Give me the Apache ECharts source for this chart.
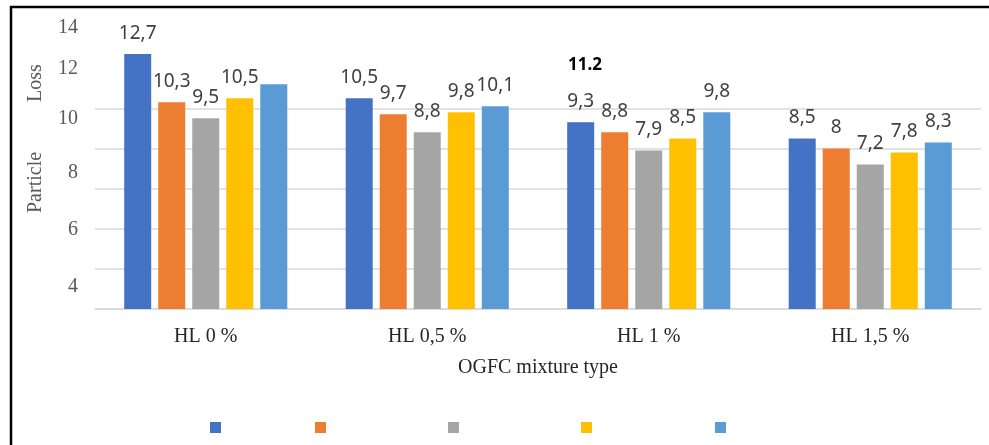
<!DOCTYPE html>
<html>
<head>
<meta charset="UTF-8">
<title>Particle Loss</title>
<style>
    html, body { margin: 0; padding: 0; background: #fff; }
    #chartArea { width: 989px; height: 445px; }
</style>
</head>
<body>
<div id="chartArea"></div>
<script src="https://cdn.jsdelivr.net/npm/echarts@6/dist/echarts.min.js"></script>
<script>
// categories on the x axis
var mixtures = ['HL 0 %', 'HL 0,5 %', 'HL 1 %', 'HL 1,5 %'];

// five series, one value per mixture
var s1 = [12.7, 10.5, 9.3, 8.5];
var s2 = [10.3, 9.7, 8.8, 8];
var s3 = [9.5, 8.8, 7.9, 7.2];
var s4 = [10.5, 9.8, 8.5, 7.8];
var s5 = [11.2, 10.1, 9.8, 8.3];

// y tick labels as printed in the source (they sit off the grid lines)
var tickLabels = ['14', '12', '10', '8', '6', '4'];
var tickAt = [14, 11.95, 9.5, 6.8, 3.95, 1.1];

// the one value printed in bold away from its bar
var strayLabel = '11.2';

var colors = ['#4472C4', '#ED7D31', '#A5A5A5', '#FFC000', '#5B9BD5'];
var names = ['s1', 's2', 's3', 's4', 's5'];
var values = [s1, s2, s3, s4, s5];

function comma(p) {
    return String(p.value).replace('.', ',');
}

var series = values.map(function (arr, i) {
    return {
        name: names[i],
        type: 'bar',
        barWidth: 27,
        barGap: '26%',
        itemStyle: { color: colors[i] },
        label: {
            show: true,
            position: 'top',
            distance: 11,
            formatter: comma,
            fontFamily: 'Noto Sans',
            fontSize: 19,
            color: '#404040'
        },
        data: arr.map(function (v, j) {
            // first light-blue bar has no label of its own
            if (i === 4 && j === 0) return { value: v, label: { show: false } };
            return v;
        })
    };
});

var legendX = [205, 310, 443, 576, 710];
var legends = names.map(function (n, i) {
    return {
        data: [n],
        left: legendX[i],
        top: 417,
        itemWidth: 11,
        itemHeight: 11,
        icon: 'rect',
        selectedMode: false,
        formatter: function () { return ''; },
        textStyle: { fontSize: 1 }
    };
});

var grid = '#d9d9d9';
var myChart = echarts.init(document.getElementById('chartArea'));
myChart.setOption({
    animation: false,
    grid: { left: 95, right: 8, top: 28, bottom: 136 },
    legend: legends,
    xAxis: {
        type: 'category',
        data: mixtures,
        axisLine: { lineStyle: { color: grid, width: 1.5 } },
        axisTick: { show: false },
        axisLabel: {
            margin: 18,
            fontFamily: 'Liberation Serif',
            fontSize: 20,
            color: '#262626'
        },
        name: 'OGFC mixture type',
        nameLocation: 'middle',
        nameGap: 49,
        nameTextStyle: {
            fontFamily: 'Liberation Serif',
            fontSize: 20,
            color: '#262626'
        }
    },
    yAxis: [{
        type: 'value',
        min: 0,
        max: 14,
        interval: 2,
        axisLabel: { show: false },
        axisLine: { show: false },
        axisTick: { show: false },
        splitLine: {
            lineStyle: {
                width: 1.5,
                color: [grid, grid, grid, grid, grid, grid, 'rgba(0,0,0,0)', 'rgba(0,0,0,0)']
            }
        }
    }, {
        type: 'value',
        position: 'left',
        min: 0,
        max: 14,
        axisLine: { show: false },
        axisTick: { show: false },
        splitLine: { show: false },
        axisLabel: {
            customValues: tickAt,
            margin: 17,
            fontFamily: 'Liberation Serif',
            fontSize: 20,
            color: '#595959',
            formatter: function (v) {
                var k = 0, best = 1e9;
                for (var i = 0; i < tickAt.length; i++) {
                    var d = Math.abs(tickAt[i] - v);
                    if (d < best) { best = d; k = i; }
                }
                return tickLabels[k];
            }
        }
    }],
    series: series,
    graphic: [{
        type: 'rect',
        shape: { x: 11, y: 7, width: 1200, height: 600 },
        style: { fill: 'none', stroke: '#000', lineWidth: 2.5 },
        silent: true
    }, {
        type: 'text',
        x: 26,
        y: 213,
        rotation: Math.PI / 2,
        style: {
            text: 'Particle',
            fontFamily: 'Liberation Serif',
            fontSize: 20,
            fill: '#595959'
        }
    }, {
        type: 'text',
        x: 26,
        y: 102,
        rotation: Math.PI / 2,
        style: {
            text: 'Loss',
            fontFamily: 'Liberation Serif',
            fontSize: 20,
            fill: '#595959'
        }
    }, {
        type: 'text',
        x: 568,
        y: 57,
        style: {
            text: strayLabel,
            fontFamily: 'Noto Sans',
            fontWeight: 'bold',
            fontSize: 17,
            fill: '#000'
        }
    }]
});
</script>
</body>
</html>
